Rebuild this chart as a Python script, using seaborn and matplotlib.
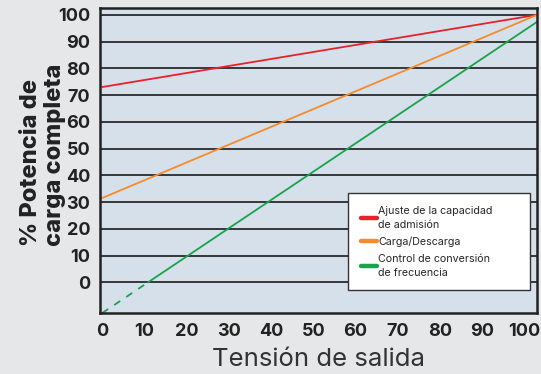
import numpy as np
import matplotlib
matplotlib.use("Agg")
import matplotlib.pyplot as plt
import seaborn as sns

# Data (the drawn lines run slightly past the 100 tick)
tension = [0, 103]
ajuste = [73, 100]
carga = [31.5, 100]
control = [-11.5, 97.4]

ticks = [0, 10, 20, 30, 40, 50, 60, 70, 80, 90, 100]
legend_labels = ["Ajuste de la capacidad\nde admisión",
                 "Carga/Descarga",
                 "Control de conversión\nde frecuencia"]
colors = ["#e8212b", "#f68b2a", "#19a34a"]

sns.set_style("white")
plt.rcParams['font.family'] = ['Inter', 'DejaVu Sans']

fig = plt.figure(figsize=(5.41, 3.74), dpi=100, facecolor="#e6e7e8")
ax = fig.add_axes([0.185, 0.163, 0.808, 0.816])
ax.set_facecolor("#d5e0ea")

sns.lineplot(x=tension, y=ajuste, color=colors[0], lw=1.3, ax=ax)
sns.lineplot(x=tension, y=carga, color=colors[1], lw=1.3, ax=ax)

# green line: dashed below 0, solid above
x0 = float(np.interp(0, control, tension))
ax.plot([tension[0], x0], [control[0], 0], color=colors[2], lw=1.3, ls=(0, (4, 4)))
ax.plot([x0, tension[1]], [0, control[1]], color=colors[2], lw=1.3)

ax.set_xlim(-0.5, 103)
ax.set_ylim(-11.5, 102.6)
ax.set_xticks(ticks)
ax.set_yticks(ticks)
ax.tick_params(length=0, labelsize=13, colors="#222222")
ax.tick_params(axis="y", pad=7)
ax.tick_params(axis="x", pad=7)
for lab in ax.get_xticklabels() + ax.get_yticklabels():
    lab.set_fontweight("bold")

ax.yaxis.grid(True, color="#2a2a2a", lw=1.3)
ax.set_axisbelow(True)
for s in ax.spines.values():
    s.set_color("#222222")
    s.set_linewidth(1.8)

ax.set_xlabel("Tensión de salida", fontsize=18.5, color="#333333", labelpad=6)
ax.set_ylabel("% Potencia de\ncarga completa", fontsize=17, fontweight="heavy",
              color="#222222", linespacing=1.15, multialignment="left")
ax.yaxis.set_label_coords(-0.077, 0.52)

handles = [plt.Line2D([], [], color=c, lw=3.2) for c in colors]
leg = ax.legend(handles, legend_labels, loc="upper left",
                bbox_to_anchor=(0.567, 0.082, 0.417, 0.311), mode="expand",
                fontsize=7.7, frameon=True,
                fancybox=False, handlelength=1.5, handletextpad=0.15,
                labelspacing=0.65, borderpad=1.2, borderaxespad=0)
for t in leg.get_texts():
    t.set_linespacing(1.45)
leg.get_frame().set_edgecolor("#333333")
leg.get_frame().set_linewidth(1.0)
leg.get_frame().set_facecolor("white")
leg.get_frame().set_alpha(1)

fig.savefig("out.png", dpi=100, facecolor=fig.get_facecolor())
